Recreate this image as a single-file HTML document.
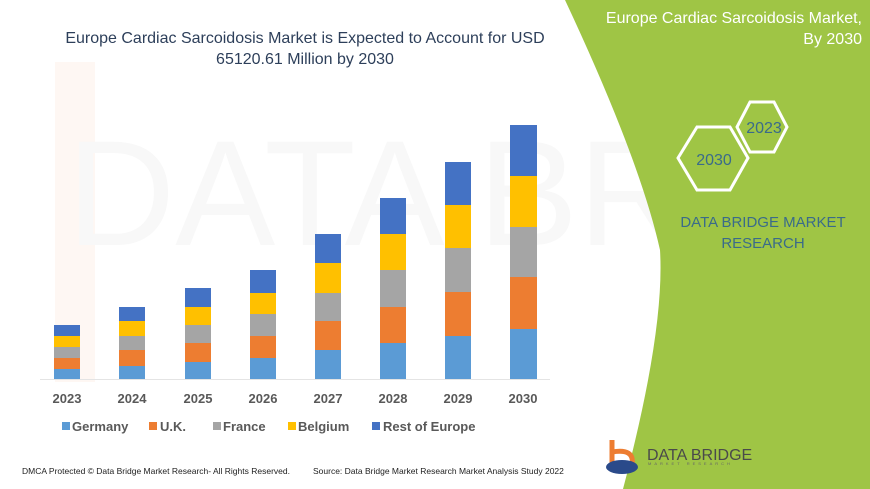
<!DOCTYPE html>
<html><head><meta charset="utf-8"><style>
html,body{margin:0;padding:0;width:870px;height:489px;overflow:hidden;background:#fff}
svg{display:block}
text{font-family:"Liberation Sans",sans-serif}
</style></head><body>
<svg width="870" height="489" viewBox="0 0 870 489" xmlns="http://www.w3.org/2000/svg">
<rect width="870" height="489" fill="#fff"/>
<!-- faint watermark -->
<rect x="55" y="62" width="40" height="320" fill="#fef7f3"/>
<text x="560" y="245" font-size="150" fill="#f8f8f8" text-anchor="middle" font-family="Liberation Sans">DATA BRIDGE</text>
<!-- green panel -->
<path d="M565,0 L870,0 L870,489 L623,489 Q665,330 660,250 Q640,160 565,0 Z" fill="#9fc545"/>
<text font-size="16" fill="#fff" text-anchor="end" font-family="Liberation Sans"><tspan x="862" y="23">Europe Cardiac Sarcoidosis Market,</tspan><tspan x="862" y="44">By 2030</tspan></text>
<polygon points="678,158 697,127 730,127 748,158 730,190 697,190" fill="none" stroke="#fff" stroke-width="3"/>
<polygon points="737,127 750,102 774,102 787,127 774,152 750,152" fill="none" stroke="#fff" stroke-width="3"/>
<text x="714" y="165" font-size="16" fill="#3a6b8a" text-anchor="middle">2030</text>
<text x="764" y="133" font-size="16" fill="#3a6b8a" text-anchor="middle">2023</text>
<text font-size="15" fill="#3a6b8a" text-anchor="middle"><tspan x="763" y="227">DATA BRIDGE MARKET</tspan><tspan x="763" y="248">RESEARCH</tspan></text>
<!-- logo -->
<path d="M612,440 L612,470" stroke="#ed7d31" stroke-width="5"/>
<path d="M612,452 Q635,448 632,465" stroke="#ed7d31" stroke-width="5" fill="none"/>
<ellipse cx="622" cy="467" rx="16" ry="7" fill="#2a4a8a"/>
<text x="647" y="460" font-size="16" fill="#4a4a4a">DATA BRIDGE</text>
<text x="648" y="465" font-size="4" fill="#666" letter-spacing="3">MARKET RESEARCH</text>
<!-- title -->
<text font-size="16" fill="#2d3f5a" text-anchor="middle"><tspan x="305" y="43">Europe Cardiac Sarcoidosis Market is Expected to Account for USD</tspan><tspan x="305" y="64">65120.61 Million by 2030</tspan></text>
<!-- baseline -->
<line x1="40" y1="379.5" x2="550" y2="379.5" stroke="#e4e4e4" stroke-width="1"/>
<!-- bars -->
<g>
<rect x="54" y="369" width="26" height="10" fill="#5b9bd5"/><rect x="54" y="358" width="26" height="11" fill="#ed7d31"/><rect x="54" y="347" width="26" height="11" fill="#a5a5a5"/><rect x="54" y="336" width="26" height="11" fill="#ffc000"/><rect x="54" y="325" width="26" height="11" fill="#4472c4"/>
<rect x="119" y="366" width="26" height="13" fill="#5b9bd5"/><rect x="119" y="350" width="26" height="16" fill="#ed7d31"/><rect x="119" y="336" width="26" height="14" fill="#a5a5a5"/><rect x="119" y="321" width="26" height="15" fill="#ffc000"/><rect x="119" y="307" width="26" height="14" fill="#4472c4"/>
<rect x="185" y="362" width="26" height="17" fill="#5b9bd5"/><rect x="185" y="343" width="26" height="19" fill="#ed7d31"/><rect x="185" y="325" width="26" height="18" fill="#a5a5a5"/><rect x="185" y="307" width="26" height="18" fill="#ffc000"/><rect x="185" y="288" width="26" height="19" fill="#4472c4"/>
<rect x="250" y="358" width="26" height="21" fill="#5b9bd5"/><rect x="250" y="336" width="26" height="22" fill="#ed7d31"/><rect x="250" y="314" width="26" height="22" fill="#a5a5a5"/><rect x="250" y="293" width="26" height="21" fill="#ffc000"/><rect x="250" y="270" width="26" height="23" fill="#4472c4"/>
<rect x="315" y="350" width="26" height="29" fill="#5b9bd5"/><rect x="315" y="321" width="26" height="29" fill="#ed7d31"/><rect x="315" y="293" width="26" height="28" fill="#a5a5a5"/><rect x="315" y="263" width="26" height="30" fill="#ffc000"/><rect x="315" y="234" width="26" height="29" fill="#4472c4"/>
<rect x="380" y="343" width="26" height="36" fill="#5b9bd5"/><rect x="380" y="307" width="26" height="36" fill="#ed7d31"/><rect x="380" y="270" width="26" height="37" fill="#a5a5a5"/><rect x="380" y="234" width="26" height="36" fill="#ffc000"/><rect x="380" y="198" width="26" height="36" fill="#4472c4"/>
<rect x="445" y="336" width="26" height="43" fill="#5b9bd5"/><rect x="445" y="292" width="26" height="44" fill="#ed7d31"/><rect x="445" y="248" width="26" height="44" fill="#a5a5a5"/><rect x="445" y="205" width="26" height="43" fill="#ffc000"/><rect x="445" y="162" width="26" height="43" fill="#4472c4"/>
<rect x="510" y="329" width="27" height="50" fill="#5b9bd5"/><rect x="510" y="277" width="27" height="52" fill="#ed7d31"/><rect x="510" y="227" width="27" height="50" fill="#a5a5a5"/><rect x="510" y="176" width="27" height="51" fill="#ffc000"/><rect x="510" y="125" width="27" height="51" fill="#4472c4"/>
</g>
<g font-size="13" font-weight="bold" fill="#595959" text-anchor="middle">
<text x="67" y="403">2023</text><text x="132" y="403">2024</text><text x="198" y="403">2025</text><text x="263" y="403">2026</text><text x="328" y="403">2027</text><text x="393" y="403">2028</text><text x="458" y="403">2029</text><text x="523" y="403">2030</text>
</g>
<g font-size="13" font-weight="bold" fill="#595959">
<rect x="62" y="422" width="8" height="8" fill="#5b9bd5"/><text x="72" y="431">Germany</text>
<rect x="149" y="422" width="8" height="8" fill="#ed7d31"/><text x="160" y="431">U.K.</text>
<rect x="213" y="422" width="8" height="8" fill="#a5a5a5"/><text x="223" y="431">France</text>
<rect x="288" y="422" width="8" height="8" fill="#ffc000"/><text x="298" y="431">Belgium</text>
<rect x="372" y="422" width="8" height="8" fill="#4472c4"/><text x="383" y="431">Rest of Europe</text>
</g>
<text x="22" y="474" font-size="8.5" fill="#222" font-family="Liberation Serif">DMCA Protected © Data Bridge Market Research- All Rights Reserved.</text>
<text x="313" y="474" font-size="8.5" fill="#222" font-family="Liberation Serif">Source: Data Bridge Market Research Market Analysis Study 2022</text>
</svg>
</body></html>
